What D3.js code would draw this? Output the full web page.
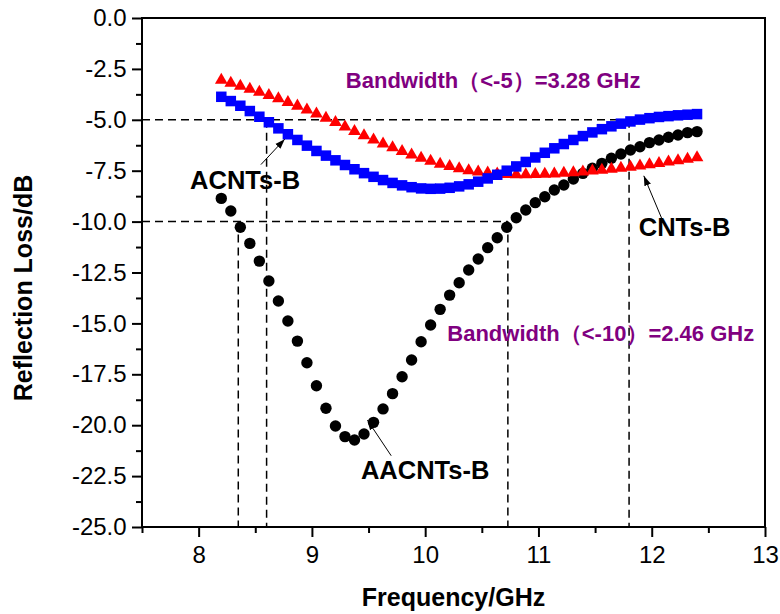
<!DOCTYPE html>
<html><head><meta charset="utf-8">
<script src="https://cdn.jsdelivr.net/npm/d3@7"></script>
<style>body{margin:0;background:#fff}svg{display:block}text{font-family:"Liberation Sans",Arial,sans-serif}</style>
</head><body>
<svg id="c" width="780" height="614"></svg>
<script>
const freq = [8.200,8.284,8.368,8.452,8.536,8.620,8.704,8.788,8.872,8.956,9.040,9.124,9.208,9.292,9.376,9.460,9.544,9.628,9.712,9.796,9.880,9.964,10.048,10.132,10.216,10.300,10.384,10.468,10.552,10.636,10.720,10.804,10.888,10.972,11.056,11.140,11.224,11.308,11.392,11.476,11.560,11.644,11.728,11.812,11.896,11.980,12.064,12.148,12.232,12.316,12.400];
const aacnts = [-8.86,-9.48,-10.28,-11.07,-11.94,-12.92,-13.90,-14.88,-15.87,-16.93,-18.06,-19.17,-20.04,-20.56,-20.73,-20.43,-19.86,-19.20,-18.45,-17.62,-16.80,-15.90,-15.08,-14.31,-13.61,-13.00,-12.38,-11.84,-11.28,-10.79,-10.28,-9.81,-9.43,-9.07,-8.78,-8.45,-8.20,-7.91,-7.63,-7.38,-7.14,-6.89,-6.68,-6.48,-6.32,-6.12,-5.99,-5.86,-5.75,-5.63,-5.58];
const acnts = [-3.87,-4.08,-4.31,-4.57,-4.85,-5.12,-5.42,-5.71,-5.99,-6.27,-6.53,-6.76,-6.99,-7.22,-7.43,-7.62,-7.80,-7.96,-8.10,-8.22,-8.31,-8.37,-8.39,-8.38,-8.34,-8.27,-8.17,-8.04,-7.88,-7.70,-7.50,-7.29,-7.07,-6.85,-6.62,-6.40,-6.19,-5.99,-5.80,-5.62,-5.46,-5.32,-5.19,-5.08,-4.99,-4.92,-4.86,-4.82,-4.78,-4.75,-4.72];
const cnts = [-3.05,-3.20,-3.34,-3.49,-3.64,-3.80,-3.96,-4.14,-4.32,-4.51,-4.71,-4.92,-5.13,-5.35,-5.57,-5.78,-5.98,-6.18,-6.37,-6.55,-6.72,-6.88,-7.03,-7.17,-7.29,-7.40,-7.49,-7.56,-7.61,-7.65,-7.68,-7.69,-7.69,-7.68,-7.67,-7.65,-7.62,-7.59,-7.55,-7.51,-7.47,-7.42,-7.37,-7.32,-7.26,-7.20,-7.14,-7.07,-7.00,-6.93,-6.86];
const xTicks = [8,9,10,11,12,13];
const yTicks = [0,-2.5,-5,-7.5,-10,-12.5,-15,-17.5,-20,-22.5,-25];
const bandX = [8.35, 8.6, 10.73, 11.8];
const bandY = [-10, -5, -10, -5];

const svg = d3.select("#c");
const L=142,R=765,T=18,B=527;
const x = d3.scaleLinear().domain([7.5,13]).range([L,R]);
const y = d3.scaleLinear().domain([0,-25]).range([T,B]);

// dashed guide lines
const g = svg.append("g").attr("stroke","#000").attr("stroke-width",1.5).attr("stroke-dasharray","8,5").attr("fill","none");
g.append("line").attr("x1",x(7.5)).attr("x2",x(11.8)).attr("y1",y(-5)).attr("y2",y(-5));
g.append("line").attr("x1",x(7.5)).attr("x2",x(10.73)).attr("y1",y(-10)).attr("y2",y(-10));
bandX.forEach((bx,i)=>{
  g.append("line").attr("x1",x(bx)).attr("x2",x(bx)).attr("y1",y(bandY[i])).attr("y2",y(-25));
});

// series
const circ = d3.symbol().type(d3.symbolCircle).size(Math.PI*5.7*5.7)();
const sq = d3.symbol().type(d3.symbolSquare).size(10.5*10.5)();
const tri = d3.symbol().type(d3.symbolTriangle).size(70)();
svg.append("g").selectAll("path").data(freq).join("path")
  .attr("d",circ).attr("fill","#000").attr("transform",(d,i)=>`translate(${x(d)},${y(aacnts[i])})`);
svg.append("g").selectAll("path").data(freq).join("path")
  .attr("d",tri).attr("fill","#ff0000").attr("transform",(d,i)=>`translate(${x(d)},${y(cnts[i])})`);
svg.append("g").selectAll("path").data(freq).join("path")
  .attr("d",sq).attr("fill","#0000ff").attr("transform",(d,i)=>`translate(${x(d)},${y(acnts[i])})`);

// frame
svg.append("rect").attr("x",L).attr("y",T).attr("width",R-L).attr("height",B-T).attr("fill","none").attr("stroke","#000").attr("stroke-width",2);

// axes
const xAx = svg.append("g").attr("transform",`translate(0,${B})`)
  .call(d3.axisBottom(x).tickValues(xTicks).tickFormat(d3.format("d")).tickSize(10).tickSizeOuter(0));
svg.append("g").attr("transform",`translate(0,${B})`)
  .call(d3.axisBottom(x).tickValues([7.5,8.5,9.5,10.5,11.5,12.5]).tickFormat("").tickSize(6).tickSizeOuter(0));
const yAx = svg.append("g").attr("transform",`translate(${L},0)`)
  .call(d3.axisLeft(y).tickValues(yTicks).tickFormat(d3.format(".1f")).tickSize(10).tickSizeOuter(0));
svg.append("g").attr("transform",`translate(${L},0)`)
  .call(d3.axisLeft(y).tickValues(d3.range(-1.25,-25,-2.5)).tickFormat("").tickSize(6).tickSizeOuter(0));
svg.selectAll(".domain").remove();
svg.selectAll(".tick line").attr("stroke","#000").attr("stroke-width",2);
xAx.selectAll("text").attr("font-size",24).attr("fill","#000").attr("dy","0.95em");
yAx.selectAll("text").attr("font-size",24).attr("fill","#000").attr("dx","-0.1em").text(d=>d3.format(".1f")(d).replace("−","-"));

// titles
svg.append("text").attr("x",(L+R)/2).attr("y",606).attr("text-anchor","middle").attr("font-weight","bold").attr("font-size",25).text("Frequency/GHz");
svg.append("text").attr("transform",`translate(32,288) rotate(-90)`).attr("text-anchor","middle").attr("font-weight","bold").attr("font-size",25).text("Reflection Loss/dB");

// annotations
svg.append("defs").append("marker").attr("id","ah").attr("viewBox","0 0 10 10").attr("refX",10).attr("refY",5)
  .attr("markerWidth",10).attr("markerHeight",10).attr("markerUnits","userSpaceOnUse").attr("orient","auto")
  .append("path").attr("d","M0,1.5 L10,5 L0,8.5 Z").attr("fill","#000");
const arrows = [[8.55,-7.2,8.76,-5.95],[12.1,-10.0,11.93,-7.75],[9.7,-21.5,9.49,-19.75]];
arrows.forEach(a=>svg.append("line").attr("x1",x(a[0])).attr("y1",y(a[1])).attr("x2",x(a[2])).attr("y2",y(a[3]))
  .attr("stroke","#000").attr("stroke-width",1).attr("marker-end","url(#ah)"));
const labels = [["ACNTs-B",8.41,-7.96,"#000"],["CNTs-B",12.29,-10.27,"#000"],["AACNTs-B",10.0,-22.2,"#000"],
  ["Bandwidth（<-5）=3.28 GHz",10.6,-3.05,"#800080"],["Bandwidth（<-10）=2.46 GHz",11.55,-15.5,"#800080"]];
labels.forEach(l=>svg.append("text").attr("x",x(l[1])).attr("y",y(l[2])).attr("text-anchor","middle").attr("dy","0.35em")
  .attr("font-weight","bold").attr("font-size",l[3]=="#000"?25.5:22).attr("fill",l[3]).text(l[0]));
</script>
</body></html>
